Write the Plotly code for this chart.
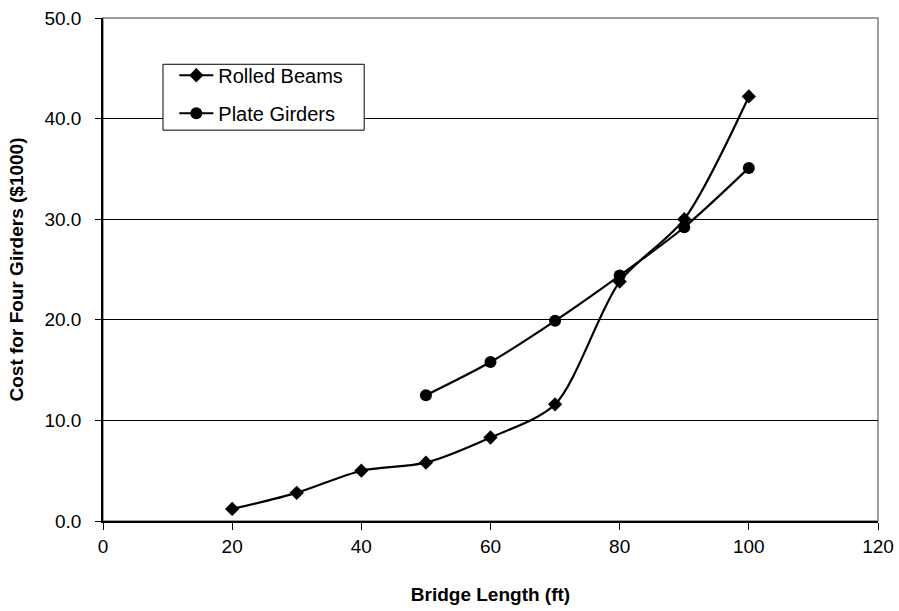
import plotly.graph_objects as go

length_rb = [20, 30, 40, 50, 60, 70, 80, 90, 100]
cost_rb = [1.2, 2.8, 5.0, 5.8, 8.3, 11.6, 23.8, 30.0, 42.2]
length_pg = [50, 60, 70, 80, 90, 100]
cost_pg = [12.5, 15.8, 19.9, 24.4, 29.2, 35.1]

fig = go.Figure()
fig.add_trace(go.Scatter(x=length_rb, y=cost_rb, name="Rolled Beams", mode="lines+markers",
                         legendgroup="a",
                         line=dict(color="black", width=2.2, shape="spline", smoothing=0.8),
                         marker=dict(symbol="diamond", size=11, color="black")))
fig.add_trace(go.Scatter(x=length_pg, y=cost_pg, name="Plate Girders", mode="lines+markers",
                         legendgroup="b",
                         line=dict(color="black", width=2.2, shape="spline", smoothing=0.8),
                         marker=dict(symbol="circle", size=12, color="black")))

fig.update_layout(
    width=899, height=611,
    margin=dict(l=103, r=21, t=18, b=90, autoexpand=False),
    paper_bgcolor="white", plot_bgcolor="white",
    font=dict(family="Liberation Sans, Arial", size=19, color="black"),
    showlegend=True,
    legend=dict(x=0.092, y=0.925, xanchor="left", yanchor="top",
                borderwidth=0, bgcolor="rgba(0,0,0,0)",
                font=dict(size=20), tracegroupgap=9, itemwidth=34),
    shapes=[
        dict(type="rect", xref="paper", yref="paper", x0=0, x1=1, y0=0, y1=1,
             line=dict(color="#808080", width=1.5), layer="below"),
        dict(type="rect", xref="paper", yref="paper", x0=0.0774, x1=0.337, y0=0.777, y1=0.908,
             line=dict(color="black", width=1), fillcolor="white", layer="above"),
    ],
)
fig.update_xaxes(range=[0, 120], tickvals=[0, 20, 40, 60, 80, 100, 120], automargin=False,
                 showgrid=False, zeroline=False, showline=True, linecolor="black", linewidth=1.5,
                 ticks="outside", ticklen=7, tickcolor="black", ticklabelstandoff=0,
                 title=dict(text="<b>Bridge Length (ft)</b>", font=dict(size=19), standoff=32))
fig.update_yaxes(range=[0, 50], tickvals=[0, 10, 20, 30, 40, 50], tickformat=".1f", automargin=False,
                 showgrid=True, gridcolor="black", gridwidth=1, zeroline=False,
                 showline=True, linecolor="black", linewidth=1.5,
                 ticks="outside", ticklen=6, tickcolor="black", ticklabelstandoff=10,
                 title=dict(text="<b>Cost for Four Girders ($1000)</b>", font=dict(size=19), standoff=16))

fig.write_html("out.html")
